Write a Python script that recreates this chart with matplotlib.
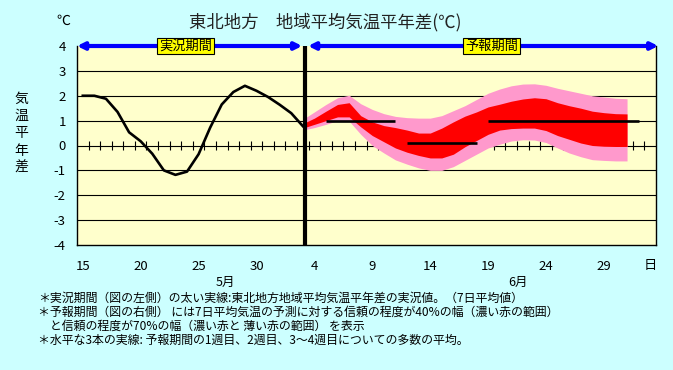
import numpy as np
import matplotlib
matplotlib.use('Agg')
import matplotlib.pyplot as plt

plt.rcParams['font.family'] = ['Noto Sans CJK JP', 'DejaVu Sans']

# Days on the x axis: 15 May .. 3 July (one category per day)
n_days = 50
tick_pos = [0, 5, 10, 15, 20, 25, 30, 35, 40, 45]
tick_labels = ['15', '20', '25', '30', '4', '9', '14', '19', '24', '29']

# Observed 7-day mean anomaly (15 May .. 3 June)
obs_days = list(range(0, 20))
obs_vals = [2.0, 2.0, 1.88, 1.35, 0.53, 0.17, -0.33, -1.0, -1.18, -1.05,
            -0.35, 0.72, 1.65, 2.15, 2.4, 2.2, 1.95, 1.64, 1.3, 0.78]

# Forecast ranges (3 June .. 1 July)
fc_days = list(range(19, 48))
pink_hi = [1.05, 1.35, 1.65, 1.92, 2.02, 1.68, 1.45, 1.28, 1.17, 1.12,
           1.1, 1.1, 1.2, 1.4, 1.6, 1.85, 2.1, 2.27, 2.4, 2.47,
           2.48, 2.42, 2.3, 2.2, 2.1, 2.0, 1.95, 1.9, 1.88]
red_hi = [0.88, 1.1, 1.38, 1.65, 1.72, 1.2, 0.95, 0.8, 0.72, 0.62,
          0.5, 0.5, 0.7, 0.95, 1.18, 1.35, 1.55, 1.66, 1.78, 1.87,
          1.92, 1.88, 1.72, 1.6, 1.5, 1.38, 1.32, 1.28, 1.27]
red_lo = [0.7, 0.85, 1.0, 1.15, 1.15, 0.75, 0.4, 0.15, -0.1, -0.27,
          -0.4, -0.5, -0.5, -0.35, -0.05, 0.2, 0.45, 0.62, 0.68, 0.7,
          0.7, 0.6, 0.4, 0.25, 0.1, 0.0, -0.03, -0.04, -0.04]
pink_lo = [0.62, 0.72, 0.85, 1.0, 0.98, 0.45, 0.0, -0.3, -0.58, -0.75,
           -0.9, -1.0, -1.0, -0.85, -0.6, -0.35, -0.1, 0.05, 0.18, 0.23,
           0.22, 0.12, -0.1, -0.3, -0.45, -0.57, -0.6, -0.62, -0.62]

# Weekly mean lines (week 1, week 2, weeks 3-4)
week_start = [21, 28, 35]
week_end = [27, 34, 48]
week_vals = [1.0, 0.11, 0.97]

obs_end = 19.2

W, H = 673, 370
fig = plt.figure(figsize=(W / 100, H / 100), dpi=100, facecolor='#CCFFFF')
ax = fig.add_axes([77 / W, 1 - 245 / H, 579 / W, 199 / H])
ax.set_facecolor('#FFFFCC')
ax.set_xlim(-0.5, n_days - 0.5)
ax.set_ylim(-4, 4)

# grid lines and zero line with small day ticks
for v in [-3, -2, -1, 1, 2, 3]:
    ax.axhline(v, color='black', lw=0.8, zorder=1)
ax.axhline(0, color='black', lw=0.8, zorder=1)
ax.vlines(np.arange(0.5, n_days - 1, 1), -0.2, 0.2, color='black', lw=0.8, zorder=1)

# forecast bands
ax.fill_between(fc_days, pink_lo, pink_hi, color='#FF99CC', lw=0, zorder=2)
ax.fill_between(fc_days, red_lo, red_hi, color='#FF0000', lw=0, zorder=2)

# weekly means
ax.hlines(week_vals, week_start, week_end, color='black', lw=1.9, zorder=3)

# observed
ax.plot(obs_days, obs_vals, color='black', lw=1.9, zorder=3, solid_joinstyle='round')

# boundary between observed and forecast
ax.axvline(obs_end, color='black', lw=3.0, zorder=4)

for s in ['left', 'right', 'bottom']:
    ax.spines[s].set_color('black')
    ax.spines[s].set_linewidth(1.0)
ax.spines['top'].set_visible(False)

ax.set_yticks(range(-4, 5))
ax.set_yticklabels([str(v) for v in range(-4, 5)], fontsize=9.5)
ax.set_xticks(tick_pos)
ax.set_xticklabels(tick_labels, fontsize=9.5)
ax.tick_params(axis='both', length=0)
ax.tick_params(axis='y', pad=8)
ax.tick_params(axis='x', pad=11)

# period arrows along the top
arrow_kw = dict(arrowstyle='<|-|>,head_length=0.4,head_width=0.2', color='#0000FF',
                lw=3.0, shrinkA=0, shrinkB=0)
ax.annotate('', xy=(-0.5, 4), xytext=(obs_end - 0.25, 4), arrowprops=arrow_kw,
            annotation_clip=False, zorder=5)
ax.annotate('', xy=(obs_end + 0.25, 4), xytext=(n_days - 0.3, 4), arrowprops=arrow_kw,
            annotation_clip=False, zorder=5)

box = dict(boxstyle='square,pad=0.12', fc='#FFFF00', ec='black', lw=0.8)
fig.text(185.5 / W, 1 - 46 / H, '実況期間', ha='center', va='center', fontsize=9.5, bbox=box)
fig.text(491.5 / W, 1 - 46 / H, '予報期間', ha='center', va='center', fontsize=9.5, bbox=box)

# titles and labels
fig.text(325 / W, 1 - 22 / H, '東北地方　地域平均気温平年差(℃)', ha='center', va='center',
         fontsize=12.5, color='#222222')
fig.text(63 / W, 1 - 21 / H, '℃', ha='center', va='center', fontsize=10)
for k, ch in enumerate('気温平年差'):
    fig.text(21 / W, 1 - (99 + 17.2 * k) / H, ch, ha='center', va='center', fontsize=10)
fig.text(650 / W, 1 - 266 / H, '日', ha='center', va='center', fontsize=9.5)
fig.text(225 / W, 1 - 282 / H, '5月', ha='center', va='center', fontsize=9)
fig.text(518 / W, 1 - 282 / H, '6月', ha='center', va='center', fontsize=9)

notes = [
    '＊実況期間（図の左側）の太い実線:東北地方地域平均気温平年差の実況値。（7日平均値）',
    '＊予報期間（図の右側） には7日平均気温の予測に対する信頼の程度が40%の幅（濃い赤の範囲）',
    '　と信頼の程度が70%の幅（濃い赤と 薄い赤の範囲） を表示',
    '＊水平な3本の実線: 予報期間の1週目、2週目、3～4週目についての多数の平均。',
]
for k, line in enumerate(notes):
    fig.text(38 / W, 1 - (298 + 14 * k) / H, line, ha='left', va='center', fontsize=8.6)

fig.savefig('out.png', dpi=100, facecolor=fig.get_facecolor())
